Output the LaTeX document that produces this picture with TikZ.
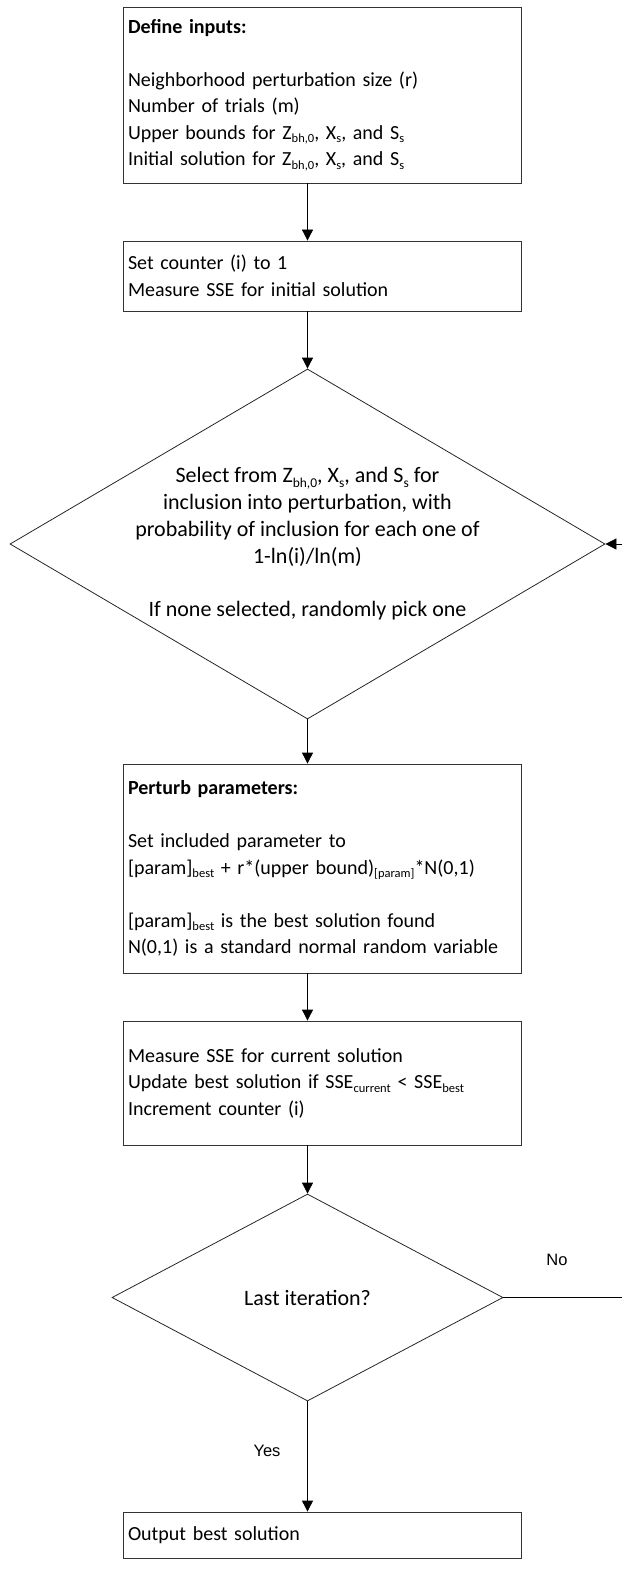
\documentclass[tikz,border=0pt]{standalone}
\usepackage{fontspec}
\setmainfont{Carlito}
\newfontfamily\arialfont{Liberation Sans}
\usetikzlibrary{shapes.geometric,arrows.meta}
\newcommand{\sbs}[1]{\raisebox{-0.4ex}{\fontsize{12.5}{12.5}\selectfont #1}}
\newcommand{\sbd}[1]{\raisebox{-0.4ex}{\fontsize{13.5}{13.5}\selectfont #1}}
\newcommand{\prm}{{[}param{]}}
\begin{document}
\begin{tikzpicture}[x=1pt,y=-1pt,
  box/.style={draw=black!80, line width=0.8pt, rectangle, minimum width=398pt, text width=388pt, inner xsep=5pt, inner ysep=0pt, align=left, font=\fontsize{20}{26.5}\selectfont},
  dia/.style={draw=black!85, line width=0.8pt, diamond, inner sep=0pt},
  txt/.style={align=center, inner sep=0pt, font=\fontsize{22}{26.8}\selectfont},
  lbl/.style={inner sep=0pt, font=\arialfont\fontsize{16.5}{20}\selectfont},
  arr/.style={draw=black, line width=0.8pt, -{Triangle[length=11pt,width=11pt]}},
]
\useasboundingbox (0,0) rectangle (621,1570);

\node[box, minimum height=176pt] (b1) at (322,95) {\textbf{Define inputs:}\\[26.5pt]
Neighborhood perturbation size (r)\\
Number of trials (m)\\
Upper bounds for Z\sbs{bh,0}, X\sbs{s}, and S\sbs{s}\\
Initial solution for Z\sbs{bh,0}, X\sbs{s}, and S\sbs{s}};

\node[box, minimum height=70pt] (b2) at (322,276) {Set counter (i) to 1\\
Measure SSE for initial solution};

\node[dia, minimum width=595pt, minimum height=350pt] (d1) at (307.5,544) {};
\node[txt] (t1) at (d1.center) {Select from Z\sbd{bh,0}, X\sbd{s}, and S\sbd{s} for\\
inclusion into perturbation, with\\
probability of inclusion for each one of\\
1-ln(i)/ln(m)\\[26.8pt]
If none selected, randomly pick one};

\node[box, minimum height=209pt] (b3) at (322,868.5) {\textbf{Perturb parameters:}\\[26.5pt]
Set included parameter to\\
\prm\sbs{best} + r*(upper bound)\sbs{\prm}*N(0,1)\\[26.5pt]
\prm\sbs{best} is the best solution found\\
N(0,1) is a standard normal random variable};

\node[box, minimum height=124pt] (b4) at (322,1083) {Measure SSE for current solution\\
Update best solution if SSE\sbs{current} {\textless} SSE\sbs{best}\\
Increment counter (i)};

\node[dia, minimum width=391pt, minimum height=207pt] (d2) at (307.5,1297.5) {};
\node[txt] (t2) at (d2.center) {Last iteration?};

\node[box, minimum height=46pt] (b5) at (322,1535) {Output best solution};

\node[lbl] (yes) at (267,1451) {Yes};
\node[lbl] (no) at (557,1260) {No};

\coordinate (rc) at (623,0);

\draw[arr] (d1.north |- b1.south) -- (d1.north |- b2.north);
\draw[arr] (d1.north |- b2.south) -- (d1.north);
\draw[arr] (d1.south) -- (d1.south |- b3.north);
\draw[arr] (d1.south |- b3.south) -- (d1.south |- b4.north);
\draw[arr] (d2.north |- b4.south) -- (d2.north);
\draw[arr] (d2.south) -- (d2.south |- b5.north);
\draw[arr] (d2.east) -- (d2.east -| rc) -- (d1.east -| rc) -- (d1.east);
\end{tikzpicture}
\end{document}
